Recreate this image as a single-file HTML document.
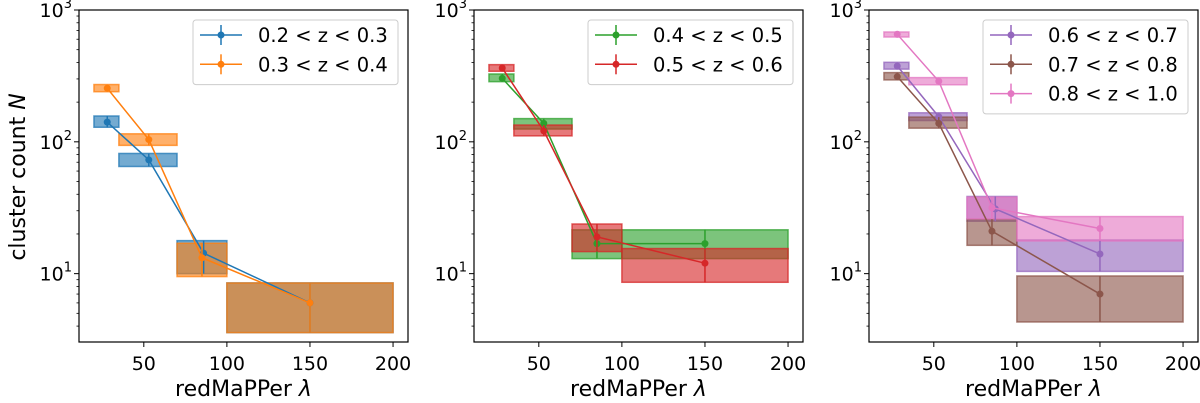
<!DOCTYPE html>
<html><head><meta charset="utf-8"><style>
body{margin:0;background:#fff;}
svg{display:block;font-family:"DejaVu Sans","Liberation Sans",sans-serif;}
</style></head><body>
<svg id="fig" width="1200" height="403"></svg>
<script>
const binEdges=[[20,35],[35,70],[70,100],[100,200]];
const xTicks=[50,100,150,200];
const yMajor=[1,2,3];
const panelLeft=[79,474,869];
const s1_x=[28,53,86,150], s1_v=[141,73,14.3,6.0], s1_lo=[129,65,10,3.57], s1_hi=[157,81.6,17.8,8.5];
const s2_x=[28,53,85,150], s2_v=[255,104,13.2,6.0], s2_lo=[240,94,9.5,3.57], s2_hi=[272,115,17,8.5];
const s3_x=[28,53,85,150], s3_v=[303,138,16.9,16.9], s3_lo=[286,125,13,13], s3_hi=[327,150,21.5,21.5];
const s4_x=[28,53,85,150], s4_v=[363,121,19,12], s4_lo=[343,111,14.7,8.6], s4_hi=[385,134,23.8,15.5];
const s5_x=[28,53,87,150], s5_v=[376,155,31,14.1], s5_lo=[356,145,25,10.4], s5_hi=[401,166,38.5,18];
const s6_x=[28,53,85,150], s6_v=[312,138,21,7], s6_lo=[295,127,16.4,4.3], s6_hi=[335,154,25.9,9.6];
const s7_x=[28,53,85,150], s7_v=[654,288,31.6,22], s7_lo=[624,271,26,17.7], s7_hi=[681,307,38,27.1];
const labels=["0.2 < z < 0.3","0.3 < z < 0.4","0.4 < z < 0.5","0.5 < z < 0.6","0.6 < z < 0.7","0.7 < z < 0.8","0.8 < z < 1.0"];
const colors=["#1f77b4","#ff7f0e","#2ca02c","#d62728","#9467bd","#8c564b","#e377c2"];
const series=[[s1_x,s1_v,s1_lo,s1_hi],[s2_x,s2_v,s2_lo,s2_hi],[s3_x,s3_v,s3_lo,s3_hi],[s4_x,s4_v,s4_lo,s4_hi],[s5_x,s5_v,s5_lo,s5_hi],[s6_x,s6_v,s6_lo,s6_hi],[s7_x,s7_v,s7_lo,s7_hi]];
const panelSeries=[[0,1],[2,3],[4,5,6]];

const NS="http://www.w3.org/2000/svg";
const svg=document.getElementById('fig');
function mk(tag,attrs,parent){const e=document.createElementNS(NS,tag);for(const k in attrs)e.setAttribute(k,attrs[k]);(parent||svg).appendChild(e);return e;}
const W=329,TOP=10,BOT=342,XMIN=11,XMAX=209,YMIN=Math.log10(3.03),YMAX=3;
panelLeft.forEach((L,pi)=>{
  const xs=v=>L+(v-XMIN)/(XMAX-XMIN)*W;
  const ys=v=>TOP+(YMAX-Math.log10(v))/(YMAX-YMIN)*(BOT-TOP);
  const g=mk('g',{});
  
  
  const ids=panelSeries[pi];
  ids.forEach(si=>{
    const [px,pv,lo,hi]=series[si];
    binEdges.forEach((b,i)=>{
      const r=mk('rect',{x:xs(b[0]),y:ys(hi[i]),width:xs(b[1])-xs(b[0]),height:ys(lo[i])-ys(hi[i]),fill:colors[si],'fill-opacity':0.62,stroke:colors[si],'stroke-opacity':0.75,'stroke-width':1.5},g);
      
      
    });
  });
  ids.forEach(si=>{
    const [px,pv,lo,hi]=series[si];
    const pl=mk('polyline',{points:px.map((x,i)=>xs(x)+','+ys(pv[i])).join(' '),fill:'none',stroke:colors[si],'stroke-width':1.5},g);
    
    
    px.forEach((x,i)=>{
      mk('line',{x1:xs(x),x2:xs(x),y1:ys(lo[i]),y2:ys(hi[i]),stroke:colors[si],'stroke-width':1.5},g);
      const c=mk('circle',{cx:xs(x),cy:ys(pv[i]),r:3.5,fill:colors[si]},g);
      
      
    });
  });
  const fr=mk('rect',{x:L,y:TOP,width:W,height:BOT-TOP,fill:'none',stroke:'#000','stroke-width':1.2},g);
  
  
  xTicks.forEach(t=>{
    mk('line',{x1:xs(t),x2:xs(t),y1:BOT,y2:BOT+5,stroke:'#000','stroke-width':1},g);
    const tx=mk('text',{x:xs(t),y:BOT+28,'text-anchor':'middle','font-size':19},g);
    tx.textContent=t;
    
    
  });
  for(let d=0;d<3;d++)for(let m=1;m<10;m++){
    const v=m*Math.pow(10,d);
    if(v<3.03||v>1000)continue;
    mk('line',{x1:L-(m===1?5:2.5),x2:L,y1:ys(v),y2:ys(v),stroke:'#000','stroke-width':m===1?1:0.8},g);
  }
  mk('line',{x1:L-5,x2:L,y1:ys(1000),y2:ys(1000),stroke:'#000'},g);
  [1,2,3].forEach(e=>{
    const tx=mk('text',{x:L-7,y:ys(Math.pow(10,e))+7,'text-anchor':'end','font-size':19},g);
    tx.innerHTML='10<tspan dy="-9" font-size="13">'+e+'</tspan>';
    
    
  });
  const xl=mk('text',{x:L+W/2,y:396,'text-anchor':'middle','font-size':22},g);
  xl.innerHTML='redMaPPer <tspan font-style="italic">λ</tspan>';
  
  
  const lw=205, lx=L+W-lw-10, lh=ids.length*29.3+6;
  const lg=mk('g',{},g);
  
  
  mk('rect',{x:lx,y:20,width:lw,height:lh,rx:3,fill:'#fff','fill-opacity':0.8,stroke:'#ccc'},lg);
  ids.forEach((si,k)=>{
    const cy=35+k*29.3;
    const e=mk('g',{},lg);
    
    
    mk('line',{x1:lx+7,x2:lx+49,y1:cy,y2:cy,stroke:colors[si],'stroke-width':1.5},e);
    mk('line',{x1:lx+28,x2:lx+28,y1:cy-10,y2:cy+10,stroke:colors[si],'stroke-width':1.5},e);
    mk('circle',{cx:lx+28,cy:cy,r:3.5,fill:colors[si]},e);
    const t=mk('text',{x:lx+65,y:cy+7,'font-size':19.5},e);
    t.textContent=labels[si];
  });
});
const yl=mk('text',{x:0,y:0,'text-anchor':'middle','font-size':22,transform:'translate(25,177) rotate(-90)'});
yl.innerHTML='cluster count <tspan font-style="italic">N</tspan>';


</script>
</body></html>
